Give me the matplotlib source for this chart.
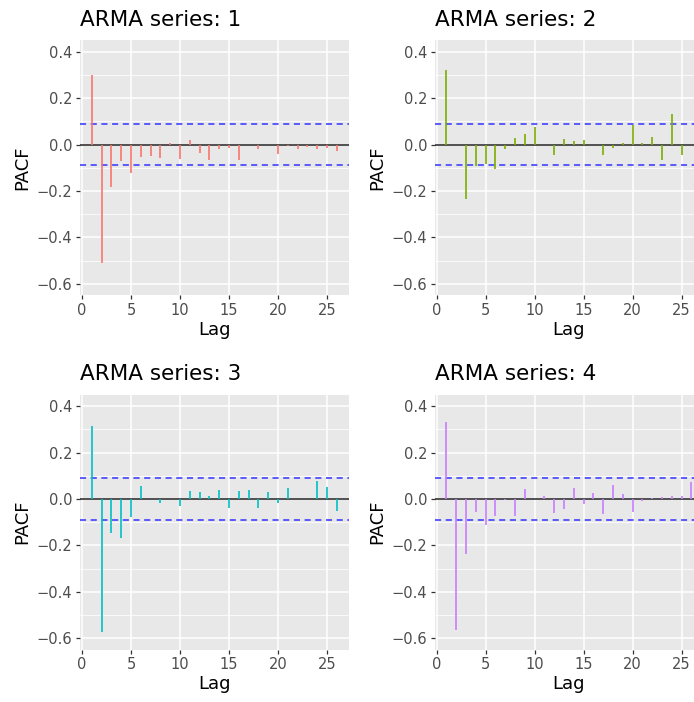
"""PACF plots of four ARMA series, ggplot-like 2x2 layout"""
import matplotlib
matplotlib.use("Agg")
import matplotlib.pyplot as plt
from matplotlib.ticker import MultipleLocator

titles = ["ARMA series: 1", "ARMA series: 2", "ARMA series: 3", "ARMA series: 4"]
lags = list(range(1, 27))
pacf1 = [0.300, -0.508, -0.181, -0.069, -0.124, -0.052, -0.049, -0.059, 0.007, -0.060,
         0.019, -0.035, -0.068, -0.020, -0.013, -0.068, -0.003, -0.019, 0.000, -0.042,
         -0.006, -0.019, -0.009, -0.020, -0.016, -0.027]
pacf2 = [0.322, -0.002, -0.233, -0.091, -0.083, -0.105, -0.017, 0.030, 0.045, 0.075,
         -0.003, -0.045, 0.026, 0.014, 0.020, -0.001, -0.043, -0.013, 0.007, 0.086,
         0.009, 0.033, -0.066, 0.132, -0.046, -0.002]
pacf3 = [0.315, -0.574, -0.145, -0.167, -0.078, 0.055, 0.001, -0.017, 0.000, -0.032,
         0.035, 0.030, 0.014, 0.039, -0.037, 0.035, 0.039, -0.040, 0.030, -0.019,
         0.046, 0.001, 0.000, 0.079, 0.050, -0.053]
pacf4 = [0.331, -0.563, -0.239, -0.055, -0.114, -0.072, -0.003, -0.075, 0.045, 0.000,
         0.012, -0.062, -0.042, 0.046, -0.023, 0.024, -0.066, 0.060, 0.022, -0.056,
         -0.010, 0.004, 0.010, 0.012, 0.013, 0.072]
conf_limit = 0.0885
colors = ["#F8766D", "#7CAE00", "#00BFC4", "#C77CFF"]

plt.rcParams["font.family"] = ["DejaVu Sans"]

fig = plt.figure(figsize=(6.94, 7.02), dpi=100)
W, H = 694, 702
# panel boxes in pixels: left, top
boxes = [(80, 40.3), (434.7, 40.3), (80, 394.6), (434.7, 394.6)]
pw, ph = 268.5, 255.2

for (left, top), title, vals, col in zip(boxes, titles, [pacf1, pacf2, pacf3, pacf4], colors):
    ax = fig.add_axes([left / W, (H - top - ph) / H, pw / W, ph / H])
    ax.set_facecolor("#E8E8E8")
    for s in ax.spines.values():
        s.set_visible(False)
    ax.set_xlim(-0.2, 27.2)
    ax.set_ylim(-0.65, 0.45)
    ax.xaxis.set_major_locator(MultipleLocator(5))
    ax.yaxis.set_major_locator(MultipleLocator(0.2))
    ax.yaxis.set_minor_locator(MultipleLocator(0.1))
    ax.grid(which="major", color="white", linewidth=1.1)
    ax.grid(which="minor", axis="y", color="white", linewidth=0.55)
    ax.set_axisbelow(True)
    ax.tick_params(which="major", length=3, width=0.9, color="#333333",
                   labelcolor="#4D4D4D", labelsize=10.5, pad=2.5)
    ax.tick_params(which="minor", length=0)
    ax.yaxis.set_major_formatter(
        matplotlib.ticker.FuncFormatter(lambda v, p: f"{v:.1f}".replace("-", "\u2212")))

    ax.axhline(0, color="#222222", linewidth=1.1, zorder=2)
    ax.axhline(conf_limit, color="#3333FF", linewidth=1.1, linestyle=(0, (4, 3)), zorder=3)
    ax.axhline(-conf_limit, color="#3333FF", linewidth=1.1, linestyle=(0, (4, 3)), zorder=3)
    ax.vlines(lags, 0, vals, color=col, linewidth=1.4, alpha=0.85, zorder=4)

    ax.set_title(title, loc="left", fontsize=15.5, pad=10.5)
    ax.set_xlabel("Lag", fontsize=13, labelpad=2)
    ax.set_ylabel("PACF", fontsize=13, labelpad=4)

fig.savefig("out.png", dpi=100)
